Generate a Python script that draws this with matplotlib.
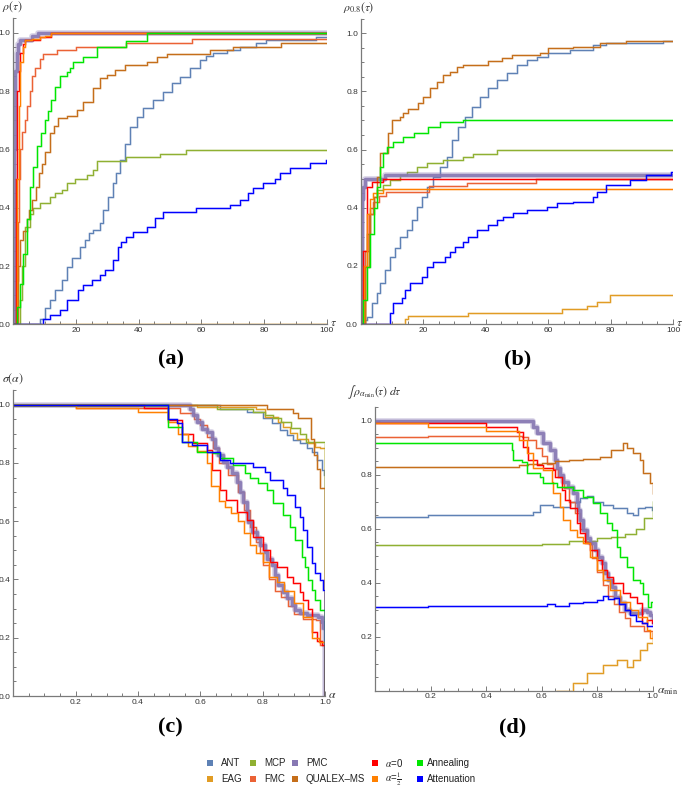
import numpy as np
import matplotlib
matplotlib.use("Agg")
import matplotlib.pyplot as plt
from matplotlib.patches import Rectangle

plt.rcParams["mathtext.fontset"] = "stix"
plt.rcParams["font.family"] = ["Liberation Sans", "DejaVu Sans"]

NAMES = ["ANT", "EAG", "MCP", "FMC", "PMC", "QUALEX\u2013MS",
         r"$\alpha$=0", r"$\alpha$=$\frac{1}{2}$", "Annealing", "Attenuation"]
COLORS = ["#5E81B5", "#E19C24", "#8FB032", "#EB6235", "#8778B3", "#C56E1A",
          "#FF0000", "#FF8000", "#00E600", "#0000FF"]
AXIS_GRAY = "#7a7a7a"

# ---- panel (a): rho(tau) ----
a_ant = [(0, 0), (8, 0), (8.5, 0.02), (10, 0.055), (11.7, 0.083), (13.3, 0.118), (15.4, 0.152),
         (17, 0.198), (18.6, 0.226), (21.3, 0.266), (22.9, 0.29), (24, 0.312), (25.5, 0.323),
         (27.6, 0.346), (28.7, 0.392), (30.3, 0.438), (31.9, 0.484), (32.9, 0.518), (34, 0.563),
         (35.6, 0.62), (37.2, 0.678), (39.3, 0.712), (41.4, 0.741), (44.6, 0.77), (47.8, 0.798),
         (50.5, 0.826), (53.1, 0.849), (56.3, 0.878), (59.5, 0.906), (61.6, 0.92), (63.7, 0.932),
         (68, 0.94), (72.2, 0.952), (77.5, 0.966), (80.7, 0.975), (96.6, 0.987), (100, 0.987)]
a_eag = [(0, 0), (100, 0)]
a_mcp = [(0, 0), (1.6, 0), (2.2, 0.083), (2.7, 0.2), (3.7, 0.335), (5.3, 0.38), (6.4, 0.4),
         (8.5, 0.415), (11.7, 0.438), (13.3, 0.452), (15.4, 0.46), (17, 0.483), (19.7, 0.5),
         (23.4, 0.512), (25.5, 0.529), (26.6, 0.56), (36, 0.575), (46.7, 0.584), (55.2, 0.598),
         (100, 0.598)]
a_fmc = [(0, 0), (0.8, 0), (1.1, 0.15), (1.4, 0.35), (1.8, 0.5), (2.3, 0.6), (2.8, 0.66),
         (3.7, 0.7), (4.3, 0.75), (5.3, 0.8), (6, 0.85), (6.9, 0.88), (8.5, 0.91), (9.4, 0.926),
         (14, 0.94), (20, 0.95), (36, 0.965), (57, 0.977), (100, 0.977)]
a_pmc = [(0, 0), (0.3, 0.6), (0.7, 0.87), (1.1, 0.93), (1.6, 0.96), (2.3, 0.975), (6, 0.99),
         (8, 1.0), (100, 1.0)]
a_qualex = [(0, 0), (1.1, 0), (1.6, 0.2), (2.2, 0.29), (3.2, 0.32), (4.3, 0.36), (5.1, 0.392),
            (6.1, 0.426), (7.2, 0.47), (8.3, 0.518), (9.2, 0.55), (10.1, 0.592), (11.7, 0.655),
            (13, 0.68), (14.4, 0.706), (17, 0.714), (20.2, 0.735), (22.3, 0.764), (25.5, 0.81),
            (27.6, 0.844), (29.8, 0.855), (32.4, 0.872), (35.6, 0.889), (42.5, 0.9), (45.7, 0.918),
            (48.9, 0.926), (62.7, 0.94), (70, 0.952), (85.5, 0.964), (100, 0.964)]
a_alpha0 = [(0, 0), (0.5, 0), (0.8, 0.5), (1.2, 0.8), (1.7, 0.87), (2.3, 0.93), (3.0, 0.96),
            (3.7, 0.975), (8.5, 0.984), (12, 1.0), (100, 1.0)]
a_alpha_half = [(0, 0), (0.7, 0), (1.2, 0.5), (1.7, 0.75), (2.3, 0.9), (3, 0.95), (3.8, 0.975),
                (6, 0.98), (8.5, 0.985), (10, 0.99), (12, 1.0), (100, 1.0)]
a_anneal = [(0, 0), (0.5, 0), (1.1, 0.06), (2.2, 0.14), (3.2, 0.24), (4.3, 0.36), (5.3, 0.47),
            (6.4, 0.54), (7.5, 0.61), (9, 0.655), (10.1, 0.7), (11.2, 0.73), (12.2, 0.77),
            (13.3, 0.815), (14.9, 0.85), (17, 0.866), (18, 0.88), (19.1, 0.9), (22.3, 0.918),
            (26.6, 0.952), (36, 0.97), (42.5, 1.0), (100, 1.0)]
a_atten = [(0, 0), (9, 0), (9.6, 0.02), (11.7, 0.032), (14.9, 0.049), (17, 0.083), (20.7, 0.118),
           (22.3, 0.135), (25, 0.152), (27.6, 0.169), (29.2, 0.186), (31.9, 0.22), (33.5, 0.266),
           (34.5, 0.283), (36.1, 0.3), (38.2, 0.318), (42.5, 0.335), (45.1, 0.364), (47.8, 0.386),
           (58.4, 0.398), (69, 0.409), (72.2, 0.426), (74.9, 0.449), (76.5, 0.466), (79.6, 0.483),
           (83.4, 0.5), (84.9, 0.518), (88.1, 0.535), (94.5, 0.552), (99.8, 0.563), (100, 0.563)]

# ---- panel (b): rho_0.8(tau) ----
b_ant = [(0, 0), (0.3, 0), (0.85, 0.014), (1.9, 0.025), (3.5, 0.071), (5.1, 0.105), (6.2, 0.14),
         (7.8, 0.186), (9.4, 0.232), (11, 0.26), (12.6, 0.3), (14.7, 0.323), (16.3, 0.358),
         (17.9, 0.404), (19.5, 0.438), (21.1, 0.472), (23.2, 0.507), (25.4, 0.541), (27.5, 0.576),
         (29.1, 0.633), (31.2, 0.679), (33.4, 0.713), (35.5, 0.748), (38.2, 0.782), (40.8, 0.81),
         (43.5, 0.839), (46.7, 0.862), (49.9, 0.891), (53.1, 0.908), (56.3, 0.92), (60, 0.931),
         (67, 0.943), (74.4, 0.96), (78.7, 0.966), (96.8, 0.975), (100, 0.975)]
b_eag = [(0, 0), (14.2, 0.016), (15.2, 0.028), (34.4, 0.039), (64.3, 0.05), (72.3, 0.062),
         (75.5, 0.077), (79.7, 0.1), (100, 0.1)]
b_mcp = [(0, 0), (0.8, 0), (1.4, 0.2), (1.9, 0.31), (3, 0.38), (4.1, 0.438), (5.1, 0.46),
         (7.2, 0.478), (9.4, 0.495), (12.6, 0.513), (14.7, 0.524), (17.9, 0.541), (21.1, 0.553),
         (26.4, 0.564), (32.8, 0.576), (36, 0.585), (43.5, 0.599), (100, 0.599)]
b_fmc = [(0, 0), (0.8, 0), (1.5, 0.25), (2.5, 0.38), (4, 0.42), (6, 0.44), (8, 0.455),
         (22, 0.475), (34, 0.486), (56, 0.5), (100, 0.5)]
b_pmc = [(0, 0), (0.3, 0.43), (0.85, 0.47), (1.4, 0.5), (7.8, 0.513), (100, 0.513)]
b_qualex = [(0, 0), (0.8, 0), (1.4, 0.197), (2.5, 0.31), (3, 0.4), (4.1, 0.438), (5.1, 0.507),
            (6.2, 0.587), (8.8, 0.656), (9.9, 0.7), (12.6, 0.713), (13.6, 0.725), (15.2, 0.738),
            (18.4, 0.759), (20, 0.782), (22.2, 0.81), (24.3, 0.834), (26.4, 0.857), (28.6, 0.868),
            (30.7, 0.885), (32.8, 0.891), (40.8, 0.903), (45.1, 0.914), (48.3, 0.925),
            (57.4, 0.931), (60, 0.948), (68, 0.954), (76.5, 0.966), (85, 0.975), (100, 0.975)]
b_alpha0 = [(0, 0), (0.3, 0), (0.85, 0.25), (2, 0.47), (3.5, 0.49), (7, 0.5), (100, 0.5)]
b_alpha_half = [(0, 0), (0.6, 0), (1, 0.2), (2, 0.38), (3, 0.43), (4, 0.45), (7, 0.463),
                (100, 0.463)]
b_anneal = [(0, 0), (0.3, 0), (0.85, 0.083), (1.9, 0.197), (3, 0.31), (4.1, 0.4), (5.1, 0.472),
            (6.2, 0.541), (7.2, 0.587), (8.3, 0.61), (10.4, 0.627), (13.6, 0.644), (17, 0.656),
            (21.6, 0.679), (25.4, 0.696), (32.8, 0.702), (100, 0.702)]
b_atten = [(0, 0), (8.8, 0), (9.4, 0.037), (10.4, 0.071), (13.1, 0.088), (14.2, 0.117),
           (15.8, 0.14), (19.5, 0.163), (21.1, 0.197), (23.2, 0.214), (27, 0.232), (28.6, 0.249),
           (30.2, 0.266), (32.8, 0.283), (34.4, 0.3), (37.1, 0.323), (40.8, 0.34), (43.5, 0.358),
           (45.6, 0.369), (48.8, 0.381), (53.1, 0.392), (59.5, 0.404), (62.7, 0.415), (68, 0.421),
           (74.4, 0.438), (75.5, 0.455), (78.7, 0.478), (86.1, 0.495), (91.5, 0.513),
           (99.5, 0.524), (100, 0.524)]

# ---- panel (c): sigma(alpha) ----
c_ant = [(0, 1.0), (0.663, 0.987), (0.75, 0.975), (0.802, 0.953), (0.829, 0.936), (0.856, 0.913),
         (0.877, 0.896), (0.898, 0.879), (0.92, 0.867), (0.941, 0.85), (0.957, 0.839),
         (0.973, 0.81), (0.989, 0.776), (0.996, 0.759), (1.0, 0)]
c_eag = [(0, 1.0), (0.588, 0.993), (0.78, 0.987), (0.807, 0.959), (0.85, 0.942), (0.866, 0.924),
         (0.888, 0.902), (0.909, 0.884), (0.946, 0.867), (0.968, 0.856), (0.985, 0.85), (1.0, 0)]
c_mcp = [(0, 1.0), (0.652, 0.987), (0.77, 0.976), (0.807, 0.965), (0.834, 0.955), (0.86, 0.941),
         (0.89, 0.919), (0.92, 0.901), (0.94, 0.873), (0.999, 0.713), (1.0, 0)]
c_fmc = [(0, 1.0), (0.2, 0.989), (0.535, 0.97), (0.58, 0.95), (0.6, 0.93), (0.62, 0.89),
         (0.64, 0.85), (0.66, 0.8), (0.69, 0.76), (0.72, 0.7), (0.74, 0.64), (0.76, 0.58),
         (0.78, 0.53), (0.79, 0.49), (0.8, 0.45), (0.82, 0.4), (0.84, 0.36), (0.86, 0.34),
         (0.88, 0.31), (0.9, 0.28), (0.93, 0.265), (0.97, 0.26), (0.985, 0.175), (1.0, 0)]
c_pmc = [(0, 1.0), (0.567, 0.985), (0.578, 0.964), (0.589, 0.94), (0.605, 0.918), (0.621, 0.907),
         (0.637, 0.884), (0.647, 0.85), (0.658, 0.827), (0.674, 0.804), (0.685, 0.787),
         (0.701, 0.764), (0.717, 0.736), (0.728, 0.701), (0.738, 0.667), (0.749, 0.633),
         (0.754, 0.598), (0.765, 0.564), (0.781, 0.541), (0.792, 0.518), (0.808, 0.495),
         (0.813, 0.472), (0.829, 0.45), (0.84, 0.415), (0.85, 0.381), (0.866, 0.358),
         (0.877, 0.335), (0.893, 0.312), (0.904, 0.295), (0.92, 0.284), (0.941, 0.278),
         (0.979, 0.272), (0.99, 0.255), (0.995, 0.232), (1.0, 0)]
c_qualex = [(0, 1.0), (0.813, 0.985), (0.899, 0.97), (0.915, 0.953), (0.955, 0.884),
            (0.965, 0.827), (0.975, 0.781), (0.985, 0.713), (1.0, 0)]
c_alpha0 = [(0, 1.0), (0.42, 0.99), (0.497, 0.947), (0.54, 0.9), (0.575, 0.87), (0.62, 0.844),
            (0.636, 0.776), (0.663, 0.707), (0.684, 0.673), (0.717, 0.633), (0.749, 0.604),
            (0.77, 0.547), (0.802, 0.501), (0.824, 0.461), (0.845, 0.444), (0.877, 0.41),
            (0.898, 0.387), (0.92, 0.358), (0.93, 0.33), (0.945, 0.3), (0.96, 0.22),
            (0.975, 0.19), (0.99, 0.175), (1.0, 0)]
c_alpha_half = [(0, 1.0), (0.2, 0.989), (0.4, 0.975), (0.497, 0.94), (0.53, 0.9), (0.56, 0.86),
                (0.59, 0.84), (0.62, 0.8), (0.635, 0.72), (0.66, 0.67), (0.68, 0.65), (0.7, 0.63),
                (0.72, 0.6), (0.74, 0.56), (0.76, 0.52), (0.78, 0.49), (0.8, 0.46), (0.82, 0.41),
                (0.845, 0.39), (0.87, 0.36), (0.9, 0.32), (0.93, 0.27), (0.96, 0.2),
                (0.98, 0.185), (1.0, 0)]
c_anneal = [(0, 1.0), (0.497, 0.925), (0.54, 0.873), (0.588, 0.839), (0.642, 0.833),
            (0.663, 0.816), (0.706, 0.793), (0.743, 0.764), (0.759, 0.747), (0.786, 0.73),
            (0.813, 0.707), (0.834, 0.661), (0.866, 0.621), (0.888, 0.581), (0.904, 0.535),
            (0.925, 0.478), (0.936, 0.444), (0.947, 0.398), (0.957, 0.364), (0.968, 0.33),
            (0.984, 0.295), (1.0, 0)]
c_atten = [(0, 1.0), (0.497, 0.95), (0.524, 0.936), (0.54, 0.873), (0.572, 0.862), (0.62, 0.839),
           (0.663, 0.81), (0.695, 0.8), (0.77, 0.785), (0.807, 0.77), (0.824, 0.741),
           (0.866, 0.713), (0.877, 0.69), (0.904, 0.65), (0.92, 0.616), (0.93, 0.57),
           (0.941, 0.513), (0.957, 0.455), (0.968, 0.421), (0.984, 0.398), (0.995, 0.364),
           (1.0, 0)]

# ---- panel (d): integral of rho_alpha_min ----
d_ant = [(0, 0.644), (0.19, 0.65), (0.52, 0.652), (0.57, 0.663), (0.594, 0.688), (0.642, 0.681),
         (0.702, 0.7), (0.738, 0.712), (0.762, 0.721), (0.786, 0.7), (0.822, 0.688),
         (0.858, 0.675), (0.906, 0.657), (0.93, 0.65), (0.948, 0.675), (0.972, 0.681),
         (0.996, 0.669), (1.0, 0.669)]
d_eag = [(0.654, 0), (0.714, 0.027), (0.762, 0.064), (0.822, 0.095), (0.87, 0.114),
         (0.906, 0.089), (0.93, 0.114), (0.954, 0.151), (0.978, 0.175), (1.0, 0.212)]
d_mcp = [(0, 0.54), (0.6, 0.545), (0.7, 0.555), (0.8, 0.565), (0.85, 0.57), (0.9, 0.58),
         (0.94, 0.6), (0.97, 0.64), (1.0, 0.7)]
d_fmc = [(0, 0.941), (0.19, 0.945), (0.53, 0.94), (0.55, 0.93), (0.58, 0.9), (0.6, 0.87),
         (0.62, 0.84), (0.64, 0.82), (0.66, 0.79), (0.68, 0.75), (0.7, 0.7), (0.72, 0.66),
         (0.74, 0.6), (0.76, 0.55), (0.78, 0.49), (0.8, 0.44), (0.82, 0.39), (0.84, 0.35),
         (0.86, 0.32), (0.88, 0.29), (0.9, 0.27), (0.92, 0.24), (0.95, 0.24), (0.97, 0.22),
         (1.0, 0.2)]
d_pmc = [(0, 1.0), (0.57, 0.975), (0.582, 0.954), (0.606, 0.917), (0.63, 0.892), (0.648, 0.855),
         (0.654, 0.824), (0.666, 0.8), (0.678, 0.774), (0.696, 0.756), (0.714, 0.731),
         (0.726, 0.7), (0.732, 0.67), (0.738, 0.632), (0.75, 0.595), (0.762, 0.565),
         (0.774, 0.546), (0.792, 0.521), (0.804, 0.497), (0.816, 0.472), (0.828, 0.435),
         (0.84, 0.41), (0.852, 0.385), (0.864, 0.348), (0.882, 0.324), (0.9, 0.299),
         (0.918, 0.287), (0.942, 0.287), (0.96, 0.299), (0.978, 0.293), (0.99, 0.28),
         (1.0, 0.268)]
d_qualex = [(0, 0.83), (0.52, 0.835), (0.55, 0.84), (0.6, 0.845), (0.65, 0.85), (0.7, 0.855),
            (0.75, 0.86), (0.81, 0.867), (0.85, 0.89), (0.894, 0.916), (0.906, 0.898),
            (0.93, 0.879), (0.954, 0.854), (0.966, 0.805), (0.99, 0.768), (1.0, 0.731)]
d_alpha0 = [(0, 0.993), (0.4, 0.978), (0.51, 0.96), (0.534, 0.904), (0.552, 0.855),
            (0.582, 0.836), (0.606, 0.824), (0.642, 0.818), (0.648, 0.793), (0.672, 0.744),
            (0.684, 0.707), (0.702, 0.676), (0.726, 0.62), (0.738, 0.583), (0.756, 0.546),
            (0.774, 0.521), (0.798, 0.484), (0.816, 0.447), (0.834, 0.422), (0.858, 0.398),
            (0.894, 0.361), (0.918, 0.348), (0.942, 0.324), (0.96, 0.25), (0.978, 0.262),
            (0.996, 0.25), (1.0, 0.25)]
d_alpha_half = [(0, 0.99), (0.19, 0.975), (0.4, 0.962), (0.52, 0.93), (0.546, 0.88),
                (0.57, 0.824), (0.606, 0.818), (0.636, 0.774), (0.642, 0.731), (0.666, 0.682),
                (0.678, 0.632), (0.702, 0.595), (0.726, 0.571), (0.75, 0.546), (0.774, 0.497),
                (0.798, 0.447), (0.822, 0.41), (0.846, 0.373), (0.882, 0.33), (0.918, 0.299),
                (0.948, 0.274), (0.978, 0.225), (0.99, 0.194), (1.0, 0.213)]
d_anneal = [(0, 0.918), (0.492, 0.89), (0.498, 0.854), (0.528, 0.848), (0.546, 0.805),
            (0.594, 0.793), (0.606, 0.768), (0.654, 0.756), (0.714, 0.743), (0.75, 0.719),
            (0.786, 0.694), (0.81, 0.657), (0.834, 0.62), (0.852, 0.595), (0.87, 0.533),
            (0.882, 0.496), (0.906, 0.459), (0.93, 0.41), (0.954, 0.398), (0.966, 0.36),
            (0.984, 0.311), (0.995, 0.33), (1.0, 0.33)]
d_atten = [(0, 0.31), (0.19, 0.312), (0.6, 0.315), (0.62, 0.32), (0.65, 0.315), (0.7, 0.325),
           (0.75, 0.33), (0.8, 0.335), (0.82, 0.35), (0.84, 0.34), (0.86, 0.345), (0.88, 0.32),
           (0.9, 0.3), (0.92, 0.28), (0.94, 0.26), (0.96, 0.25), (0.98, 0.24), (1.0, 0.25)]

PANELS = [
    [a_ant, a_eag, a_mcp, a_fmc, a_pmc, a_qualex, a_alpha0, a_alpha_half, a_anneal, a_atten],
    [b_ant, b_eag, b_mcp, b_fmc, b_pmc, b_qualex, b_alpha0, b_alpha_half, b_anneal, b_atten],
    [c_ant, c_eag, c_mcp, c_fmc, c_pmc, c_qualex, c_alpha0, c_alpha_half, c_anneal, c_atten],
    [d_ant, d_eag, d_mcp, d_fmc, d_pmc, d_qualex, d_alpha0, d_alpha_half, d_anneal, d_atten],
]


def draw_curves(ax, curves):
    for pts, color, name in zip(curves, COLORS, NAMES):
        x, y = np.array(pts).T
        if name == "PMC":
            ax.plot(x, y, drawstyle="steps-post", color=color, lw=4.0, alpha=0.35)
            ax.plot(x, y, drawstyle="steps-post", color=color, lw=2.5, alpha=0.9)
        else:
            ax.plot(x, y, drawstyle="steps-post", color=color, lw=1.8, alpha=0.3)
            ax.plot(x, y, drawstyle="steps-post", color=color, lw=0.8)


def style_axes(ax, xmax, xmajor, xminor, ymajor, xfmt):
    ax.set_xlim(0, xmax)
    ax.set_ylim(0, 1.05)
    for s in ["top", "right"]:
        ax.spines[s].set_visible(False)
    for s in ["left", "bottom"]:
        ax.spines[s].set_color(AXIS_GRAY)
        ax.spines[s].set_linewidth(0.9)
    ax.set_xticks(xmajor)
    ax.set_xticklabels([xfmt.format(v) for v in xmajor])
    ax.set_xticks(xminor, minor=True)
    ax.set_yticks(ymajor)
    ax.set_yticklabels([f"{v:.1f}" for v in ymajor])
    ax.set_yticks(np.arange(0, 1.051, 0.05), minor=True)
    ax.tick_params(which="both", direction="in", color=AXIS_GRAY, width=0.7,
                   labelsize=6, labelcolor="#333333", pad=2)
    ax.tick_params(which="major", length=3.5)
    ax.tick_params(which="minor", length=2)


fig = plt.figure(figsize=(6.85, 7.93), dpi=100)
W, H = 685.0, 793.0
ax_a = fig.add_axes([0.0193, 0.591, 0.458, 0.3861])
ax_b = fig.add_axes([0.5266, 0.5914, 0.4559, 0.385])
ax_c = fig.add_axes([0.0194, 0.1223, 0.455, 0.3857])
ax_d = fig.add_axes([0.5474, 0.129, 0.4054, 0.3575])

for ax, curves in zip([ax_a, ax_b, ax_c, ax_d], PANELS):
    draw_curves(ax, curves)

tau_major = [20, 40, 60, 80, 100]
tau_minor = np.arange(0, 101, 5)
alpha_major = [0.2, 0.4, 0.6, 0.8, 1.0]
alpha_minor = np.arange(0, 1.001, 0.05)
rho_major = [0.0, 0.2, 0.4, 0.6, 0.8, 1.0]

style_axes(ax_a, 100, tau_major, tau_minor, rho_major, "{:d}")
style_axes(ax_b, 100, tau_major, tau_minor, rho_major, "{:d}")
style_axes(ax_c, 1.0, alpha_major, alpha_minor, rho_major, "{:.1f}")
style_axes(ax_d, 1.0, alpha_major, alpha_minor, [0.2, 0.4, 0.6, 0.8, 1.0], "{:.1f}")

# axis labels, Mathematica style (at the ends of the axes)
ylabels = [(ax_a, r"$\rho(\tau)$", (-8, 8)),
           (ax_b, r"$\rho_{0.8}(\tau)$", (-12.5, 8)),
           (ax_c, r"$\sigma(\alpha)$", (-8, 8.5)),
           (ax_d, r"$\int\,\rho_{\alpha_{\min}}(\tau)\;d\tau$", (-20, 11))]
for ax, txt, off in ylabels:
    ax.annotate(txt, xy=(0, 1), xycoords="axes fraction", xytext=off,
                textcoords="offset points", ha="left", va="center", fontsize=8.5,
                color="#333333", annotation_clip=False)

xlabels = [(ax_a, r"$\tau$", (2, 1)), (ax_b, r"$\tau$", (2, 1)),
           (ax_c, r"$\alpha$", (2, 1)), (ax_d, r"$\alpha_{\min}$", (3, 0))]
for ax, txt, off in xlabels:
    ax.annotate(txt, xy=(1, 0), xycoords="axes fraction", xytext=off,
                textcoords="offset points", ha="left", va="center", fontsize=8.5,
                color="#333333", annotation_clip=False)

# panel tags
for x, y, tag in [(0.249, 0.547, "(a)"), (0.755, 0.547, "(b)"),
                  (0.249, 0.082, "(c)"), (0.748, 0.082, "(d)")]:
    fig.text(x, y, tag, ha="center", va="center", fontsize=16, fontweight="bold",
             family="Liberation Serif")

# legend, laid out column by column (two rows)
swatch_x = [210, 253, 295, 375, 420]
text_x = [221, 264, 306, 385, 427]
row_y = [763, 779]
sw = 6.5
for i, (name, color) in enumerate(zip(NAMES, COLORS)):
    col, row = i // 2, i % 2
    cx, cy = swatch_x[col], row_y[row]
    fig.patches.append(Rectangle(((cx - sw / 2) / W, 1 - (cy + sw / 2) / H), sw / W, sw / H,
                                 transform=fig.transFigure, facecolor=color,
                                 edgecolor="none"))
    fig.text(text_x[col] / W, 1 - cy / H, name, ha="left", va="center", fontsize=7,
             color="#222222")

fig.savefig("out.png", dpi=100)
